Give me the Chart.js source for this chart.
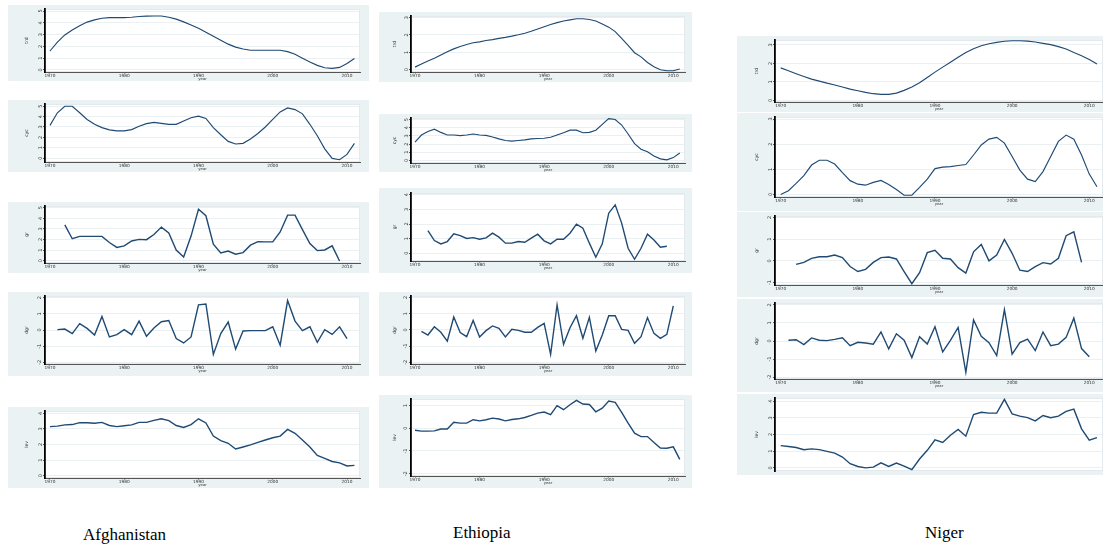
<!DOCTYPE html>
<html><head><meta charset="utf-8">
<script src="https://cdn.jsdelivr.net/npm/chart.js@4/dist/chart.umd.min.js"></script>
<style>
html,body{margin:0;padding:0;background:#fff;width:1103px;height:548px;overflow:hidden;position:relative;}
.panel{position:absolute;background:#eaf2f3;overflow:hidden;}
.panel canvas{display:block;}
.country{position:absolute;font-family:"Liberation Serif","DejaVu Serif",serif;font-size:17px;line-height:1;color:#000;white-space:nowrap;}
</style></head><body>
<script>
// ---------- data ----------
const years = [1970,1971,1972,1973,1974,1975,1976,1977,1978,1979,
               1980,1981,1982,1983,1984,1985,1986,1987,1988,1989,
               1990,1991,1992,1993,1994,1995,1996,1997,1998,1999,
               2000,2001,2002,2003,2004,2005,2006,2007,2008,2009,
               2010,2011];
const xTickYears = [1970,1980,1990,2000,2010];
const countries = ["Afghanistan","Ethiopia","Niger"];
const yTitles = ["trd","cyc","gr","dgr","lev"];

// Afghanistan
const afgTrend = [1.61,2.36,2.97,3.39,3.75,4.06,4.25,4.39,4.44,4.44,
  4.44,4.47,4.53,4.56,4.58,4.58,4.47,4.31,4.08,3.81,
  3.53,3.19,2.86,2.53,2.19,1.94,1.78,1.67,1.67,1.67,
  1.67,1.67,1.56,1.33,1.00,0.67,0.39,0.19,0.14,0.22,
  0.56,0.97];
const afgCycle = [3.16,4.37,5.0,5.0,4.37,3.73,3.26,2.94,2.72,2.63,
  2.63,2.75,3.07,3.32,3.45,3.35,3.26,3.26,3.58,3.89,
  4.05,3.83,2.94,2.25,1.61,1.36,1.42,1.84,2.37,3.0,
  3.73,4.46,4.84,4.68,4.27,3.26,2.15,0.89,-0.03,-0.16,
  0.35,1.42];
const afgGrowth = [null,null,3.38,2.07,2.29,2.29,2.29,2.29,1.71,1.25,
  1.40,1.86,2.01,1.98,2.47,3.17,2.62,1.01,0.34,2.32,
  4.85,4.24,1.55,0.73,0.91,0.61,0.76,1.46,1.80,1.77,
  1.77,2.71,4.30,4.30,2.93,1.62,0.95,1.01,1.40,-0.03,
  null,null];
const afgDiff = [null,0.02,0.06,-0.22,0.39,0.10,-0.31,0.84,-0.43,-0.29,
  0.02,-0.29,0.55,-0.39,0.12,0.51,0.59,-0.53,-0.80,-0.43,
  1.55,1.61,-1.51,-0.22,0.49,-1.18,-0.06,-0.04,-0.04,-0.04,
  0.20,-0.94,1.82,0.55,-0.04,0.20,-0.76,0.02,-0.27,0.20,
  -0.53,null];
const afgLevel = [3.15,3.18,3.26,3.28,3.40,3.40,3.36,3.42,3.22,3.15,
  3.20,3.26,3.42,3.42,3.55,3.65,3.53,3.22,3.09,3.28,
  3.65,3.38,2.54,2.25,2.08,1.71,1.84,1.98,2.14,2.29,
  2.43,2.54,2.97,2.72,2.29,1.84,1.30,1.11,0.91,0.82,
  0.62,0.66];

// Ethiopia
const ethTrend = [0.15,0.33,0.50,0.66,0.85,1.03,1.20,1.34,1.45,1.55,
  1.60,1.68,1.73,1.80,1.86,1.93,2.01,2.10,2.21,2.34,
  2.47,2.60,2.71,2.80,2.87,2.93,2.93,2.89,2.80,2.63,
  2.45,2.19,1.80,1.40,0.98,0.74,0.42,0.17,0.0,-0.06,
  -0.06,0.04];
const ethCycle = [2.24,3.11,3.54,3.82,3.43,3.11,3.11,3.03,3.11,3.23,
  3.11,3.07,2.87,2.64,2.44,2.36,2.44,2.52,2.64,2.68,
  2.72,2.83,3.11,3.39,3.70,3.70,3.39,3.43,3.70,4.41,
  5.12,5.0,4.33,3.23,2.05,1.38,1.06,0.55,0.20,0.08,
  0.35,0.91];
const ethGrowth = [null,null,1.55,0.87,0.64,0.80,1.33,1.21,1.01,1.07,
  0.96,1.05,1.37,1.10,0.69,0.69,0.80,0.75,1.03,1.30,
  0.85,0.64,0.96,0.96,1.37,1.99,1.71,0.69,-0.27,0.64,
  2.74,3.31,2.06,0.34,-0.41,0.34,1.30,0.91,0.41,0.48,
  null,null];
const ethDiff = [null,-0.09,-0.32,0.19,-0.15,-0.69,0.79,-0.17,-0.42,0.58,
  -0.44,-0.05,0.24,0.09,-0.44,0.03,-0.03,-0.15,-0.15,0.15,
  0.40,-1.51,1.53,-0.89,0.13,0.87,-0.52,0.77,-1.30,-0.32,
  0.87,0.87,0.03,-0.03,-0.83,-0.42,0.75,-0.22,-0.52,-0.28,
  1.47,null];
const ethLevel = [-0.09,-0.13,-0.13,-0.12,-0.04,-0.04,0.26,0.22,0.22,0.37,
  0.32,0.37,0.44,0.40,0.32,0.38,0.41,0.47,0.56,0.66,
  0.71,0.59,0.99,0.81,1.03,1.22,1.06,1.04,0.72,0.88,
  1.19,1.13,0.69,0.22,-0.22,-0.37,-0.37,-0.63,-0.87,-0.88,
  -0.82,-1.37];

// Niger
const nerTrend = [1.76,1.60,1.44,1.29,1.15,1.04,0.93,0.83,0.72,0.61,
  0.52,0.43,0.36,0.32,0.32,0.39,0.54,0.72,0.95,1.24,
  1.53,1.80,2.06,2.33,2.59,2.80,2.96,3.07,3.14,3.20,
  3.23,3.23,3.21,3.16,3.09,3.02,2.91,2.78,2.59,2.42,
  2.21,1.97];
const nerCycle = [0,0.15,0.44,0.75,1.17,1.36,1.36,1.21,0.87,0.55,
  0.41,0.37,0.48,0.56,0.40,0.20,-0.03,-0.03,0.28,0.61,
  1.03,1.09,1.11,1.15,1.19,1.57,1.97,2.20,2.27,2.04,
  1.51,0.97,0.61,0.51,0.91,1.51,2.11,2.36,2.20,1.57,
  0.81,0.31];
const nerGrowth = [null,null,-0.16,-0.07,0.12,0.19,0.19,0.27,0.15,-0.26,
  -0.49,-0.39,-0.07,0.15,0.18,0.09,-0.49,-1.05,-0.54,0.38,
  0.49,0.12,0.09,-0.31,-0.56,0.42,0.76,0.0,0.27,0.99,
  0.35,-0.43,-0.49,-0.26,-0.08,-0.14,0.12,1.16,1.34,-0.07,
  null,null];
const nerDiff = [null,0.04,0.07,-0.20,0.17,0.04,0.02,0.09,0.18,-0.26,
  -0.07,-0.11,-0.18,0.50,-0.44,0.40,0.04,-0.92,0.24,-0.17,
  0.79,-0.61,0.04,0.75,-1.74,1.17,0.26,-0.09,-0.81,1.74,
  -0.73,-0.09,0.11,-0.53,0.50,-0.26,-0.17,0.20,1.27,-0.42,
  -0.88,null];
const nerLevel = [1.33,1.28,1.22,1.09,1.14,1.09,0.99,0.88,0.65,0.25,
  0.08,0,0.04,0.30,0.08,0.29,0.10,-0.11,0.53,1.05,
  1.68,1.52,1.96,2.30,1.90,3.20,3.33,3.28,3.28,4.11,
  3.24,3.10,3.01,2.82,3.14,3.01,3.10,3.39,3.52,2.34,
  1.66,1.81];

// y tick labels per panel
const ticks0to5 = [0,1,2,3,4,5];
const ticks0to4 = [0,1,2,3,4];
const ticks0to3 = [0,1,2,3];
const ticksM2to2 = [-2,-1,0,1,2];
const ticksM2to1 = [-2,-1,0,1];
const ticksM1to2 = [-1,0,1,2];

// ---------- layout (style only) ----------
const colGeom = [
  {bgL:8,   bgR:369,  pL:45,  pR:360,  xMin:1969.33, xMax:2011.75, tOff:16},
  {bgL:379, bgR:692,  pL:411, pR:685,  xMin:1969.38, xMax:2011.81, tOff:13},
  {bgL:737, bgR:1103, pL:775, pR:1103, xMin:1969.26, xMax:2011.78, tOff:17}
];
const panels = [
  {col:0,row:0,data:afgTrend, ticks:ticks0to5, yMin:-0.17,yMax:5.17, bgT:5,  bgB:81,  pT:8,  pB:72},
  {col:0,row:1,data:afgCycle, ticks:ticks0to5, yMin:-0.38,yMax:5.22, bgT:100,bgB:172, pT:103,pB:162},
  {col:0,row:2,data:afgGrowth,ticks:ticks0to5, yMin:-0.22,yMax:5.16, bgT:202,bgB:273, pT:204,pB:263},
  {col:0,row:3,data:afgDiff,  ticks:ticksM2to2,yMin:-2.1, yMax:2.1,  bgT:292,bgB:376, pT:295,pB:364},
  {col:0,row:4,data:afgLevel, ticks:ticks0to4, yMin:-0.15,yMax:4.15, bgT:407,bgB:488, pT:408,pB:478},
  {col:1,row:0,data:ethTrend, ticks:ticks0to3, yMin:-0.13,yMax:3.09, bgT:12, bgB:82,  pT:13, pB:72},
  {col:1,row:1,data:ethCycle, ticks:ticks0to5, yMin:-0.31,yMax:5.19, bgT:114,bgB:172, pT:117,pB:163},
  {col:1,row:2,data:ethGrowth,ticks:ticks0to4, yMin:-0.53,yMax:4.12, bgT:188,bgB:273, pT:193,pB:261},
  {col:1,row:3,data:ethDiff,  ticks:ticksM2to2,yMin:-2.1, yMax:2.08, bgT:292,bgB:376, pT:296,pB:364},
  {col:1,row:4,data:ethLevel, ticks:ticksM2to1,yMin:-2.1, yMax:1.28, bgT:395,bgB:488, pT:399,pB:476},
  {col:2,row:0,data:nerTrend, ticks:ticks0to3, yMin:-0.09,yMax:3.27, bgT:36, bgB:112, pT:39, pB:102},
  {col:2,row:1,data:nerCycle, ticks:ticks0to3, yMin:-0.1, yMax:3.08, bgT:113,bgB:211, pT:117,pB:197},
  {col:2,row:2,data:nerGrowth,ticks:ticksM1to2,yMin:-1.11,yMax:2.07, bgT:212,bgB:297, pT:216,pB:285},
  {col:2,row:3,data:nerDiff,  ticks:ticksM2to2,yMin:-2.11,yMax:2.11, bgT:299,bgB:392, pT:302,pB:379},
  {col:2,row:4,data:nerLevel, ticks:ticks0to4, yMin:-0.19,yMax:4.19, bgT:394,bgB:475, pT:398,pB:475, noX:true}
];
const countryPos = [{left:83,top:526},{left:453,top:524},{left:925,top:524}];
const TITLE_FONT = 3.8;
const TITLE_CENTER = 7.2; // px below plot bottom

const plotBg = {
  id:'plotBg',
  beforeDraw(c){
    const a=c.chartArea, ctx=c.ctx;
    ctx.save();
    ctx.fillStyle='#ffffff';
    ctx.fillRect(a.left,a.top,a.right-a.left,a.bottom-a.top);
    ctx.strokeStyle='#e3e9ec';
    ctx.lineWidth=1;
    ctx.strokeRect(a.left+0.5,a.top+0.5,a.right-a.left-1,a.bottom-a.top-1);
    ctx.restore();
  }
};

const LINE = '#1f4a73';
const TXT = '#333';

panels.forEach(p=>{
  const g = colGeom[p.col];
  const div = document.createElement('div');
  div.className='panel';
  const w = g.bgR-g.bgL, h = p.bgB-p.bgT;
  div.style.left=g.bgL+'px'; div.style.top=p.bgT+'px';
  div.style.width=w+'px'; div.style.height=h+'px';
  const cv = document.createElement('canvas');
  cv.width=w; cv.height=h;
  cv.style.width=w+'px'; cv.style.height=h+'px';
  div.appendChild(cv);
  document.body.appendChild(div);
  const pts = years.map((y,i)=>({x:y,y:p.data[i]}));
  const jag = p.row>=2;
  const xh = p.bgB-p.pB;
  const titlePadB = Math.max(0, xh - TITLE_CENTER - TITLE_FONT*1.2/2);
  new Chart(cv,{
    type:'line',
    data:{datasets:[{data:pts,borderColor:LINE,borderWidth:jag?1.4:1.15,pointRadius:0,tension:0,fill:false,spanGaps:false}]},
    plugins:[plotBg],
    options:{
      responsive:false, animation:false, devicePixelRatio:1,
      layout:{padding:{top:p.pT-p.bgT,right:g.bgR-g.pR,left:0,bottom:0}},
      plugins:{legend:{display:false},tooltip:{enabled:false}},
      scales:{
        x:{
          type:'linear', min:g.xMin, max:g.xMax, display:!p.noX,
          afterBuildTicks:s=>{s.ticks=xTickYears.map(v=>({value:v}));},
          afterFit:s=>{s.height=xh;},
          grid:{drawOnChartArea:false,tickLength:1.5,color:'#666',tickColor:'#555'},
          border:{color:'#555',width:1},
          ticks:{font:{size:4.3,family:'DejaVu Sans'},color:TXT,padding:0,maxRotation:0,autoSkip:false,callback:v=>String(v)},
          title:{display:true,text:'year',font:{size:TITLE_FONT,family:'DejaVu Sans'},color:TXT,padding:{top:0,bottom:titlePadB}}
        },
        y:{
          min:p.yMin, max:p.yMax,
          afterBuildTicks:s=>{s.ticks=p.ticks.map(v=>({value:v}));},
          afterFit:s=>{s.width=g.pL-g.bgL;},
          grid:{color:'#e6ecef',lineWidth:0.8,tickLength:2,tickColor:'#333'},
          border:{color:'#000',width:1.8},
          ticks:{font:{size:5,family:'DejaVu Sans'},color:TXT,padding:1,minRotation:90,maxRotation:90,crossAlign:'center',autoSkip:false,callback:v=>String(v)},
          title:{display:true,text:yTitles[p.row],font:{size:4.5,family:'DejaVu Sans'},color:TXT,padding:{top:g.tOff,bottom:0}}
        }
      }
    }
  });
});

countries.forEach((name,i)=>{
  const d=document.createElement('div');
  d.className='country';
  d.textContent=name;
  d.style.left=countryPos[i].left+'px';
  d.style.top=countryPos[i].top+'px';
  document.body.appendChild(d);
});
</script>
</body></html>
